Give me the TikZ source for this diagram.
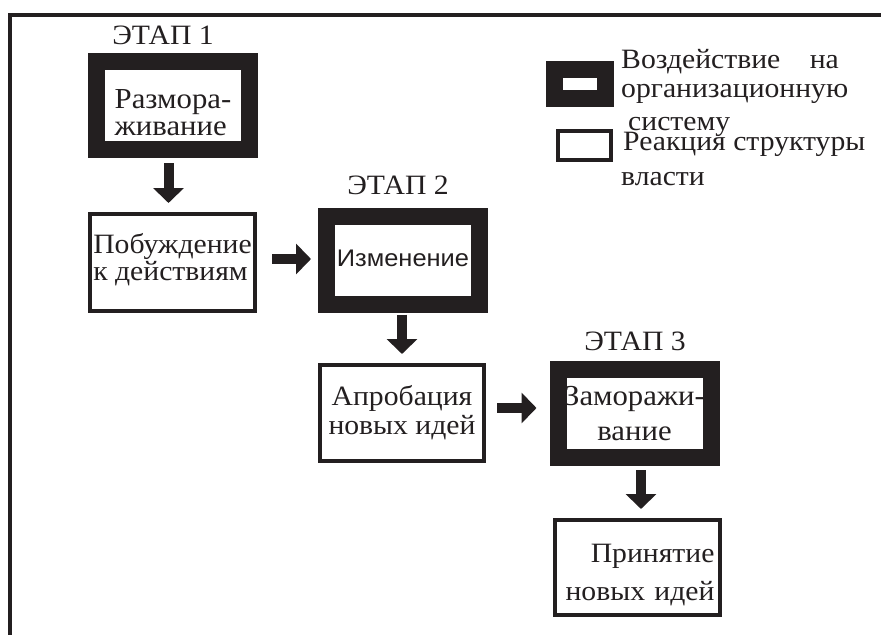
\documentclass[tikz,border=0pt]{standalone}
\usepackage{fontspec}
\setmainfont[FakeStretch=1.06]{Liberation Serif}
\newfontfamily\sansfont[FakeStretch=1.06]{Liberation Sans}
\usetikzlibrary{arrows.meta}
\definecolor{ink}{HTML}{231F20}
\newcommand{\fsz}[2]{\fontsize{#1}{#2}\selectfont}

\begin{document}
\begin{tikzpicture}[x=1pt,y=-1pt,
  heavy/.style={draw=ink, line width=17pt, inner sep=0pt,
    minimum width=153pt, minimum height=88pt, text=ink, text depth=0pt},
  light/.style={draw=ink, line width=4pt, inner sep=0pt,
    minimum width=165pt, minimum height=97pt, text=ink, text depth=0pt},
  stage/.style={font=\fsz{28}{30}, anchor=base, inner sep=0pt, text=ink},
  legtext/.style={anchor=base west, align=left, inner sep=0pt, text=ink, font=\fsz{28}{30}},
  flow/.style={draw=ink, line width=10pt, -{Triangle[width=30pt,length=15pt]}}
]
\useasboundingbox (0,0) rectangle (881,635);

% outer frame: top and left edges only
\draw[ink, line width=3.5pt] (881,15) -- (10,15) -- (10,635);

% stage boxes (heavy) and reactions (light)
\node[heavy, font=\fsz{29}{27}, align=left, text height=59pt] (b1) at (173,105.5) {Размора-\\живание};
\node[light, font=\fsz{28}{25}, align=left, text height=35pt] (b2) at (172.5,262.5) {Побуждение\\к действиям};
\node[heavy, font=\sansfont\fsz{24}{27}, text height=12pt] (b3) at (403,260) {Изменение};
\node[light, minimum width=164pt, minimum height=96pt, font=\fsz{28}{29}, align=center, text height=42pt] (b4) at (402,413) {Апробация\\новых идей};
\node[heavy, font=\fsz{29}{35}, align=center, text height=53pt] (b5) at (634.5,413.5) {Заморажи-\\вание};
\node[light, minimum height=95pt, font=\fsz{28}{38}, align=right, text width=154pt, text height=0pt, text depth=11pt] (b6) at (637.5,567.5) {Принятие\\новых идей};

% stage titles
\node[stage] (s1) at (163,44) {ЭТАП 1};
\node[stage] (s2) at (398,194) {ЭТАП 2};
\node[stage] (s3) at (635,350) {ЭТАП 3};

% arrows between the boxes (anchors lie on the outer edge of each border)
\draw[flow, shorten <=5pt, shorten >=9pt] ([xshift=-4.5pt]b1.south) -- ([xshift=-4pt]b2.north);
\draw[flow, shorten <=15pt, shorten >=7pt] ([yshift=3.5pt]b2.east) -- ([yshift=1pt]b3.west);
\draw[flow, shorten <=2pt, shorten >=9pt] ([xshift=-1pt]b3.south) -- (b4.north);
\draw[flow, shorten <=11pt, shorten >=13pt] ([yshift=5pt]b4.east) -- ([yshift=5.5pt]b5.west);
\draw[flow, shorten <=4pt, shorten >=9pt] ([xshift=6.5pt]b5.south) -- ([xshift=3.5pt]b6.north);

% legend
\node[heavy, minimum width=51pt, minimum height=29pt] (k1) at (580,84) {};
\node[light, minimum width=53pt, minimum height=29pt] (k2) at (584.5,145.5) {};
\node[legtext] (l1) at (621,130) {Воздействие\hspace{22pt} на\\[-1pt]организационную\\[3pt]\hspace*{7pt}систему};
\node[legtext, font=\fsz{28}{35}] (l2) at (621,185) {\hspace*{2pt}Реакция структуры\\власти};
\end{tikzpicture}
\end{document}
